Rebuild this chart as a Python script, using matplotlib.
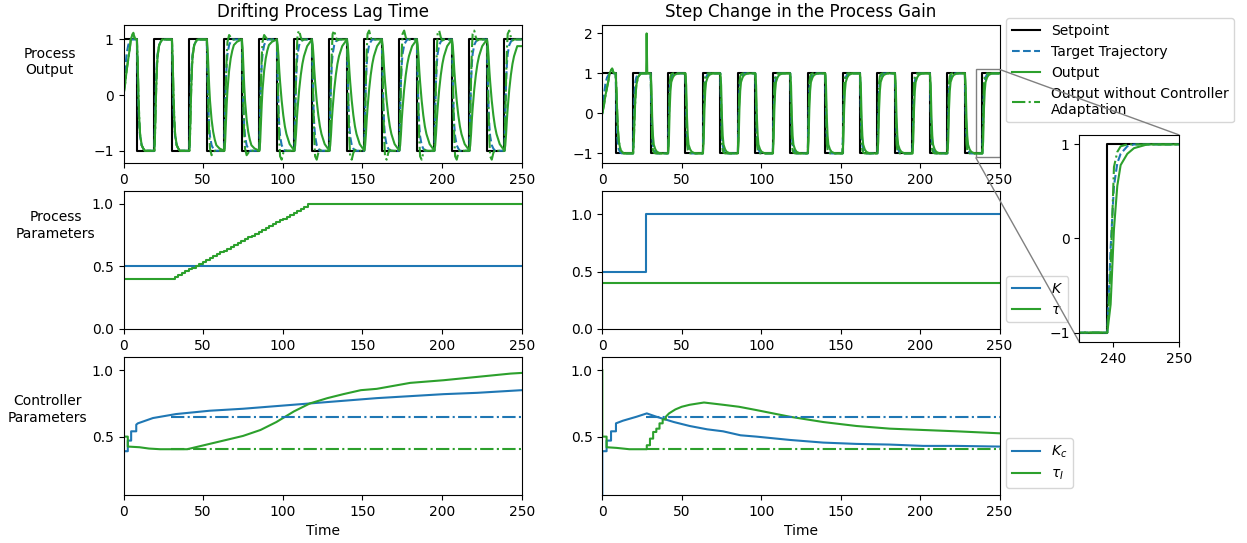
import numpy as np
import matplotlib.pyplot as plt
from mpl_toolkits.axes_grid1.inset_locator import mark_inset

# setpoint square wave (switch times, value after each switch)
sp_t = [0, 8.4, 19.4, 30.4, 41.4, 52.3, 63.3, 74.3, 85.3, 96.3, 107.3, 118.3,
        129.3, 140.3, 151.2, 162.2, 173.2, 184.2, 195.2, 206.2, 217.2, 228.2, 239.2, 250]
sp_y = [1, -1, 1, -1, 1, -1, 1, -1, 1, -1, 1, -1,
        1, -1, 1, -1, 1, -1, 1, -1, 1, -1, 1, 1]

# shape of one transition: fraction of the swing done
# at these times after a setpoint switch
resp_t = [0, 0.5, 1, 1.5, 2, 3, 4, 5, 6, 8, 11]
rows = {
    "target": [0, .35, .62, .78, .87, .95, .98, 1, 1, 1, 1],
    "fast":   [0, .20, .50, .72, .85, .95, .98, 1, 1, 1, 1],
    "mid":    [0, .08, .25, .42, .55, .72, .83, .90, .95, .98, 1],
    "slow":   [0, .05, .15, .28, .38, .55, .68, .78, .85, .94, 1],
    "ring":   [0, .30, .62, .85, .98, 1.04, 1.02, 1.0, 1, 1, 1],
    "ring2":  [0, .30, .65, .90, 1.05, 1.08, 1.02, .99, 1, 1, 1],
    "r_targ": [0, .45, .78, .90, .95, .99, 1, 1, 1, 1, 1],
    "r_out":  [0, .15, .55, .78, .89, .95, .98, .99, 1, 1, 1],
    "r_noad": [0, .35, .88, .96, .99, 1, 1, 1, 1, 1, 1],
}

# which row each of the 22 transitions uses
left_target = ["target"] * 22
left_out = ["fast"] * 4 + ["mid"] * 4 + ["slow"] * 14
left_noad = ["fast"] * 4 + ["ring"] * 4 + ["ring2"] * 14
right_target = ["r_targ"] * 22
right_out = ["fast"] * 2 + ["r_out"] * 20
right_noad = ["fast"] * 2 + ["r_noad"] * 20

# first high phase (starts from 0)
start_t = [0, 1, 2, 3, 4, 4.6, 5.5, 6.2, 7, 8.4]
start_out = [0, 0.2, 0.45, 0.65, 0.85, 1.0, 1.08, 1.12, 1.02, 1.0]
start_targ = [0, 0.45, 0.75, 0.9, 0.97, 0.99, 1, 1, 1, 1]

# gain step spike in the right panel
spike_t = [27.6, 27.9, 28.3]
spike_y = [1.0, 2.0, 1.0]

# process parameters
lag_t = [0, 30, 32.2, 34.4, 36.6, 38.8, 41, 43.2, 45.4, 47.6, 49.8, 52, 54.2, 56.4,
         58.6, 60.8, 63, 65.2, 67.4, 69.6, 71.8, 74, 76.2, 78.4, 80.6, 82.8, 85,
         87.2, 89.4, 91.6, 93.8, 96, 98.2, 100.4, 102.6, 104.8, 107, 109.2, 111.4,
         113.6, 115.8, 250]
lag_tau = [0.4, 0.4, 0.415, 0.43, 0.445, 0.46, 0.475, 0.49, 0.505, 0.52, 0.535,
           0.55, 0.565, 0.58, 0.595, 0.61, 0.625, 0.64, 0.655, 0.67, 0.685, 0.7,
           0.715, 0.73, 0.745, 0.76, 0.775, 0.79, 0.805, 0.82, 0.835, 0.85, 0.865,
           0.88, 0.895, 0.91, 0.925, 0.94, 0.955, 0.97, 1.0, 1.0]
lag_K = [0.5, 0.5]
gain_t = [0, 27.5, 250]
gain_K = [0.5, 1.0, 1.0]
gain_tau = [0.4, 0.4, 0.4]

# controller parameters, drifting lag
cl_Kc_t = [0, 0, 2.7, 2.7, 4.8, 4.8, 8, 8, 9, 18.5, 33, 54, 75, 96, 117, 138, 159,
           180, 201, 222, 250]
cl_Kc = [0.0, 0.39, 0.39, 0.47, 0.47, 0.54, 0.54, 0.59, 0.6, 0.64, 0.67, 0.695,
         0.71, 0.73, 0.75, 0.77, 0.79, 0.805, 0.82, 0.83, 0.85]
cl_ti_t = [0, 0, 2.7, 2.7, 10, 16, 23, 40, 54, 75, 86, 96, 107, 117, 128, 138,
           149, 159, 180, 201, 222, 243, 250]
cl_ti = [1.0, 0.5, 0.5, 0.425, 0.42, 0.41, 0.405, 0.405, 0.445, 0.505, 0.55, 0.61,
         0.69, 0.75, 0.79, 0.82, 0.85, 0.86, 0.905, 0.925, 0.95, 0.975, 0.98]

# controller parameters, gain step
cg_Kc_t = [0, 0, 2.7, 2.7, 5.5, 5.5, 8.6, 8.6, 13, 21.6, 28, 34, 45, 55, 66, 76,
           87, 97, 118, 139, 160, 181, 202, 223, 250]
cg_Kc = [0.0, 0.39, 0.39, 0.47, 0.47, 0.54, 0.54, 0.6, 0.62, 0.65, 0.675, 0.65,
         0.61, 0.58, 0.555, 0.54, 0.51, 0.5, 0.475, 0.455, 0.445, 0.44, 0.43,
         0.43, 0.425]
cg_ti_t = [0, 0, 2.7, 2.7, 9, 17, 28, 28, 30, 30, 32, 32, 34, 34, 36, 36, 38, 38,
           40, 40, 42, 46, 50, 55, 64, 76, 86, 97, 118, 139, 160, 181, 202, 223, 250]
cg_ti = [1.0, 0.5, 0.5, 0.42, 0.415, 0.405, 0.405, 0.435, 0.435, 0.485, 0.485,
         0.535, 0.535, 0.56, 0.56, 0.6, 0.6, 0.63, 0.63, 0.65, 0.675, 0.705, 0.725,
         0.74, 0.757, 0.74, 0.725, 0.7, 0.65, 0.61, 0.58, 0.56, 0.55, 0.54, 0.525]

fixed_t = [30, 250]
fixed_Kc = [0.645, 0.645]
fixed_ti = [0.405, 0.405]


def build(names, first_t, first_y):
    t = list(first_t)
    y = list(first_y)
    for k in range(1, len(sp_t) - 1):
        a, b = sp_y[k - 1], sp_y[k]
        for dt, fr in zip(resp_t, rows[names[k - 1]]):
            if sp_t[k] + dt <= sp_t[k + 1]:
                t.append(sp_t[k] + dt)
                y.append(a + (b - a) * fr)
    t.append(250)
    y.append(y[-1])
    return np.array(t), np.array(y)


def add_spike(t, y):
    keep = (t < spike_t[0]) | (t > spike_t[-1])
    t2 = np.concatenate([t[keep], spike_t])
    y2 = np.concatenate([y[keep], spike_y])
    order = np.argsort(t2, kind="stable")
    return t2[order], y2[order]


blue = "#1f77b4"
green = "#2ca02c"

fig = plt.figure(figsize=(12.47, 5.43), dpi=100)
W, H = 1247, 543


def axes_px(x0, y0, x1, y1):
    return fig.add_axes([x0 / W, 1 - y1 / H, (x1 - x0) / W, (y1 - y0) / H])


ax_ol = axes_px(123.5, 25, 521.7, 163)
ax_pl = axes_px(123.5, 191, 521.7, 329)
ax_cl = axes_px(123.5, 357, 521.7, 495)
ax_or = axes_px(602.3, 25, 999.5, 163)
ax_pr = axes_px(602.3, 191, 999.5, 329)
ax_cr = axes_px(602.3, 357, 999.5, 495)
axins = axes_px(1079.3, 135, 1179.3, 342)


def draw_outputs(ax, targ, out, noad, spike=False):
    tt, yt = build(targ, start_t, start_targ)
    to, yo = build(out, start_t, start_out)
    tn, yn = build(noad, start_t, start_out)
    if spike:
        to, yo = add_spike(to, yo)
    ax.plot(sp_t, sp_y, color="black", drawstyle="steps-post", label="Setpoint")
    ax.plot(tt, yt, "--", color=blue, label="Target Trajectory")
    ax.plot(to, yo, "-", color=green, label="Output")
    ax.plot(tn, yn, "-.", color=green,
            label="Output without Controller\nAdaptation")


draw_outputs(ax_ol, left_target, left_out, left_noad)
draw_outputs(ax_or, right_target, right_out, right_noad, spike=True)
draw_outputs(axins, right_target, right_out, right_noad)

ax_ol.set_ylim(-1.22, 1.26)
ax_or.set_ylim(-1.24, 2.21)
ax_or.set_yticks([-1, 0, 1, 2])
ax_ol.set_title("Drifting Process Lag Time", fontsize=12)
ax_or.set_title("Step Change in the Process Gain", fontsize=12)

axins.set_xlim(235, 250)
axins.set_ylim(-1.1, 1.1)
axins.set_xticks([240, 250])
axins.set_yticks([-1, 0, 1])
mark_inset(ax_or, axins, loc1=1, loc2=3, fc="none", ec="0.5")

ax_pl.plot([0, 250], lag_K, color=blue, label="$K$")
ax_pl.plot(lag_t, lag_tau, color=green, drawstyle="steps-post", label=r"$\tau$")
ax_pr.plot(gain_t, gain_K, color=blue, drawstyle="steps-post", label="$K$")
ax_pr.plot(gain_t, gain_tau, color=green, drawstyle="steps-post", label=r"$\tau$")
ax_pl.set_ylim(0, 1.1)
ax_pr.set_ylim(0, 1.2)
for ax in (ax_pl, ax_pr):
    ax.set_yticks([0, 0.5, 1.0])

ax_cl.plot(cl_Kc_t, cl_Kc, color=blue, label="$K_c$")
ax_cl.plot(cl_ti_t, cl_ti, color=green, label=r"$\tau_I$")
ax_cl.plot(fixed_t, fixed_Kc, "-.", color=blue)
ax_cl.plot(fixed_t, fixed_ti, "-.", color=green)
ax_cr.plot(cg_Kc_t, cg_Kc, color=blue, label="$K_c$")
ax_cr.plot(cg_ti_t, cg_ti, color=green, label=r"$\tau_I$")
ax_cr.plot([27.5, 250], fixed_Kc, "-.", color=blue)
ax_cr.plot([27.5, 250], fixed_ti, "-.", color=green)
for ax in (ax_cl, ax_cr):
    ax.set_ylim(0.06, 1.1)
    ax.set_yticks([0.5, 1.0])
    ax.set_xlabel("Time")

for ax in (ax_ol, ax_pl, ax_cl, ax_or, ax_pr, ax_cr):
    ax.set_xlim(0, 250)
    ax.set_xticks([0, 50, 100, 150, 200, 250])

ax_ol.set_ylabel("Process\nOutput", rotation=0, ha="center", va="center")
ax_ol.yaxis.set_label_coords(-0.185, 0.73)
ax_pl.set_ylabel("Process\nParameters", rotation=0, ha="center", va="center")
ax_pl.yaxis.set_label_coords(-0.17, 0.75)
ax_cl.set_ylabel("Controller\nParameters", rotation=0, ha="center", va="center")
ax_cl.yaxis.set_label_coords(-0.19, 0.62)

ax_or.legend(loc="upper left", bbox_to_anchor=(1, 1.1))
ax_pr.legend(loc="lower left", bbox_to_anchor=(1, 0))
ax_cr.legend(loc="lower left", bbox_to_anchor=(1, 0))

fig.savefig("out.png", dpi=100)
